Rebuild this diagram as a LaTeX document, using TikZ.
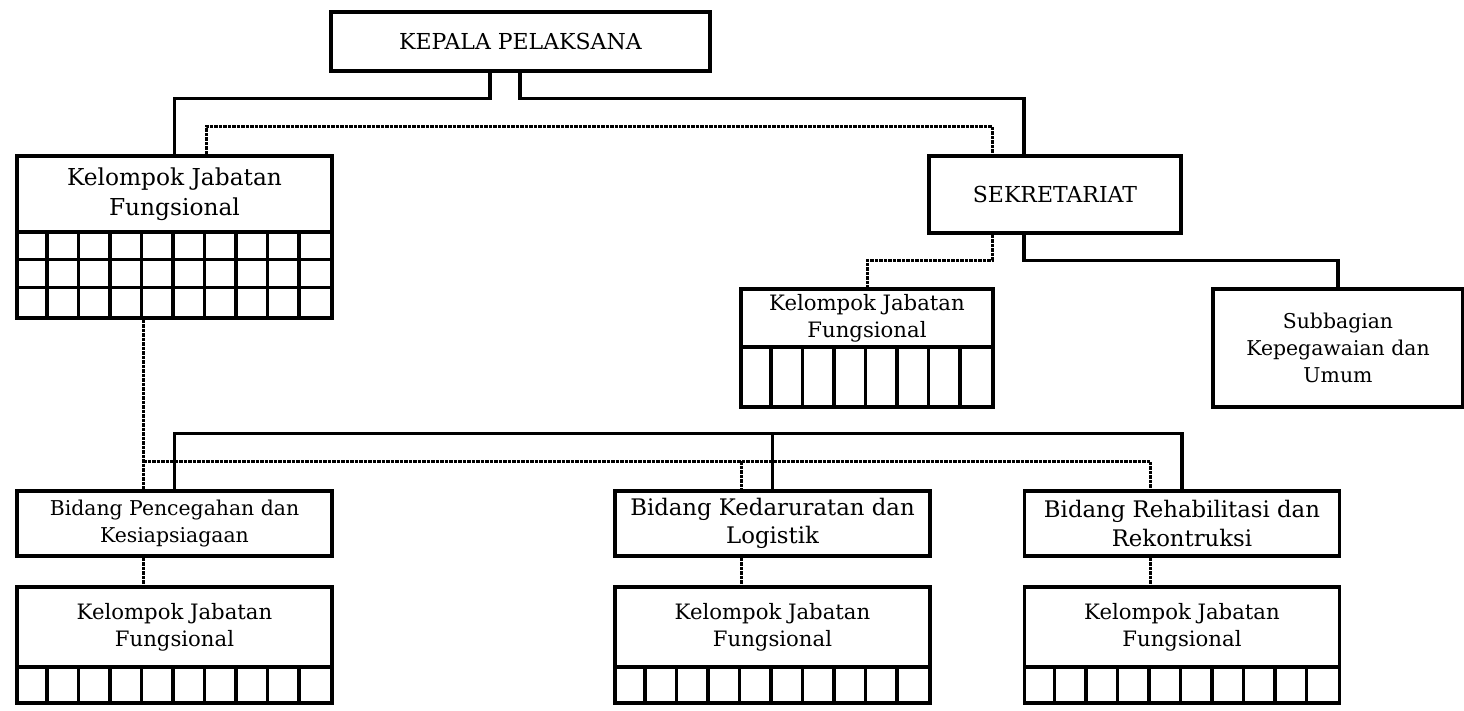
\documentclass[tikz,border=0pt]{standalone}
\usepackage{fontspec}
\setmainfont{DejaVu Serif}
\usetikzlibrary{calc}
\newcommand\gridcols[2]{\foreach \i in {1,...,#2}{\draw[conn] ($(#1.north west)+(31.5*\i,0)$) -- ($(#1.south west)+(31.5*\i,0)$);}}
\begin{document}
\begin{tikzpicture}[x=0.5pt,y=-0.5pt,
  conn/.style={line width=1.65pt},
  dotc/.style={line width=1.5pt, dash pattern=on 1.8pt off 0.45pt},
  box/.style={draw, line width=1.65pt, inner sep=0pt, align=center, font=\fontsize{10.2}{13.5}\selectfont},
  bigtxt/.style={font=\fontsize{11}{15}\selectfont},
  kfbig/.style={font=\fontsize{11.65}{15}\selectfont},
  kfmid/.style={font=\fontsize{10.6}{13.5}\selectfont},
  bidbig/.style={font=\fontsize{11.4}{14}\selectfont},
]
\useasboundingbox (0,0) rectangle (1464,711);
% top level
\node[box,bigtxt,minimum width=189.5pt,minimum height=29.5pt] (kp) at (520.5,41.5) {KEPALA PELAKSANA};
\node[box,kfbig,minimum width=157.5pt,minimum height=38pt] (kf1) at (174.5,194) {Kelompok Jabatan\\Fungsional};
\node[box,minimum width=157.5pt,minimum height=43pt] (kf1g) at (174.5,275) {};
\node[box,bigtxt,minimum width=126pt,minimum height=38.5pt] (sek) at (1055,194.5) {SEKRETARIAT};
\node[box,kfmid,minimum width=126pt,minimum height=29pt] (kf2) at (867,318) {Kelompok Jabatan\\Fungsional};
\node[box,minimum width=126pt,minimum height=30pt] (kf2g) at (867,377) {};
\node[box,minimum width=125pt,minimum height=59pt] (sub) at (1338,348) {Subbagian\\Kepegawaian dan\\Umum};
% bottom level
\node[box,minimum width=157.5pt,minimum height=32.5pt] (b1) at (174.5,523.5) {Bidang Pencegahan dan\\Kesiapsiagaan};
\node[box,kfmid,minimum width=157.5pt,minimum height=40pt] (kb1) at (174.5,627) {Kelompok Jabatan\\Fungsional};
\node[box,minimum width=157.5pt,minimum height=18pt] (kb1g) at (174.5,685) {};
\node[box,bidbig,minimum width=157.5pt,minimum height=32.5pt] (b2) at (772.5,523.5) {Bidang Kedaruratan dan\\Logistik};
\node[box,kfmid,minimum width=157.5pt,minimum height=40pt] (kb2) at (772.5,627) {Kelompok Jabatan\\Fungsional};
\node[box,minimum width=157.5pt,minimum height=18pt] (kb2g) at (772.5,685) {};
\node[box,bidbig,minimum width=157.5pt,minimum height=32.5pt] (b3) at (1182,523.5) {Bidang Rehabilitasi dan\\Rekontruksi};
\node[box,kfmid,minimum width=157.5pt,minimum height=40pt] (kb3) at (1182,627) {Kelompok Jabatan\\Fungsional};
\node[box,minimum width=157.5pt,minimum height=18pt] (kb3g) at (1182,685) {};
% grids
\gridcols{kf1g}{9}
\draw[conn] ($(kf1g.north west)+(0,29)$) -- ($(kf1g.north east)+(0,29)$);
\draw[conn] ($(kf1g.north west)+(0,57)$) -- ($(kf1g.north east)+(0,57)$);
\gridcols{kf2g}{7}
\gridcols{kb1g}{9}
\gridcols{kb2g}{9}
\gridcols{kb3g}{9}
% solid connectors
\draw[conn] ($(kp.south)+(-30.5,0)$) |- ($(kf1.north)+(0,-56)$) -- (kf1.north);
\draw[conn] ($(kp.south)+(-0.5,0)$) |- ($(sek.north)+(-31,-56)$) -- ($(sek.north)+(-31,0)$);
\draw[conn] ($(sek.south)+(-31,0)$) |- ($(sub.north)+(0,-27)$) -- (sub.north);
\draw[conn] (b1.north) |- ($(b2.north)+(0,-56)$) -| (b3.north);
\draw[conn] (b2.north) -- ++(0,-56);
% dotted connectors
\draw[dotc] ($(kf1.north)+(31.5,0)$) -- ++(0,-28) -| ($(sek.north)+(-63,0)$);
\draw[dotc] ($(sek.south)+(-63,0)$) |- ($(kf2.north)+(0,-27)$) -- (kf2.north);
\draw[dotc] ($(kf1g.south)+(-31.5,0)$) -- ($(b1.north)+(-31.5,0)$);
\draw[dotc] ($(b1.north)+(-31.5,-28)$) -| ($(b3.north)+(-31.5,0)$);
\draw[dotc] ($(b2.north)+(-31.5,-28)$) -- ($(b2.north)+(-31.5,0)$);
\draw[dotc] ($(b1.south)+(-31.5,0)$) -- ($(kb1.north)+(-31.5,0)$);
\draw[dotc] ($(b2.south)+(-31.5,0)$) -- ($(kb2.north)+(-31.5,0)$);
\draw[dotc] ($(b3.south)+(-31.5,0)$) -- ($(kb3.north)+(-31.5,0)$);
\end{tikzpicture}
\end{document}
